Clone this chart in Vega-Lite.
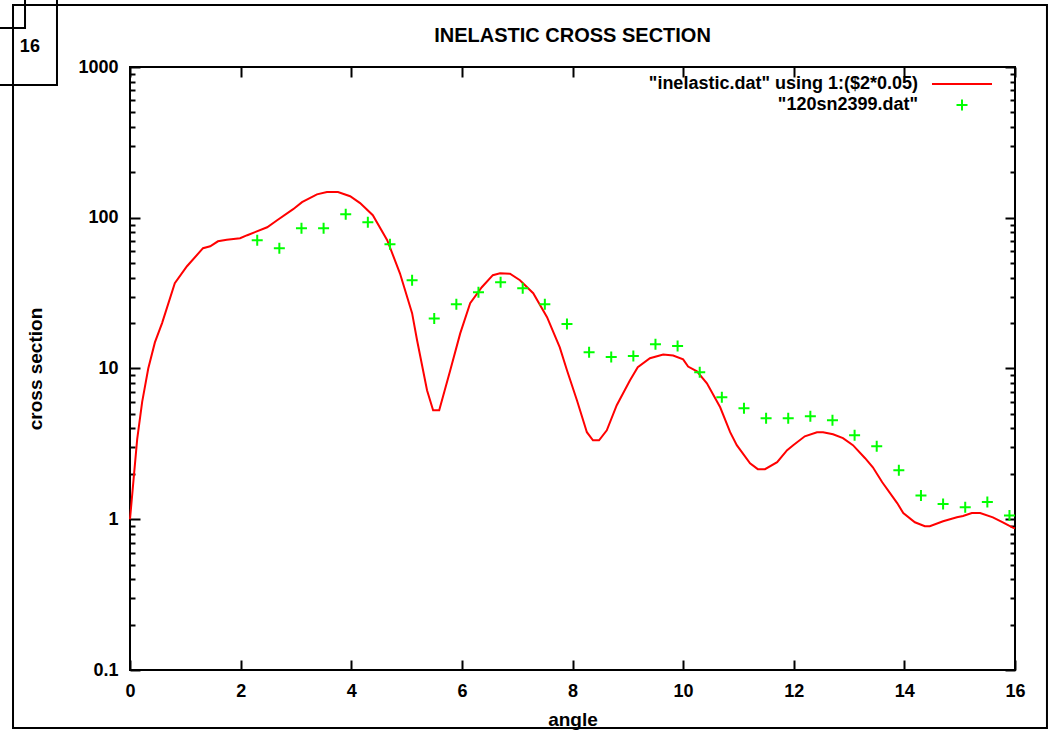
{
  "$schema": "https://vega.github.io/schema/vega-lite/v6.json",
  "width": 885,
  "height": 603,
  "autosize": {"type": "none"},
  "padding": {"left": 130, "top": 67, "right": 42, "bottom": 61},
  "background": "white",
  "title": {"text": "INELASTIC CROSS SECTION", "font": "Liberation Sans", "fontSize": 20, "fontWeight": "bold", "color": "black", "anchor": "middle", "frame": "group", "baseline": "alphabetic", "offset": -68},
  "config": {
    "view": {"stroke": "black", "strokeWidth": 2},
    "axis": {"domain": false, "grid": false, "labelFont": "Liberation Sans", "labelFontSize": 18, "labelFontWeight": "bold", "labelColor": "black", "titleFont": "Liberation Sans", "titleFontSize": 19, "titleFontWeight": "bold", "titleColor": "black", "tickColor": "black", "tickWidth": 2, "labelOverlap": false, "labelFlush": false},
    "legend": {"labelFont": "Liberation Sans", "labelFontSize": 18, "labelFontWeight": "bold", "labelColor": "black"}
  },
  "resolve": {"axis": {"x": "independent", "y": "independent"}},
  "datasets": {
    "inelastic": [
      {"angle": 0, "cs": 1.0, "series": "\"inelastic.dat\" using 1:($2*0.05)"},
      {"angle": 0.13, "cs": 3.4, "series": "\"inelastic.dat\" using 1:($2*0.05)"},
      {"angle": 0.22, "cs": 6.0, "series": "\"inelastic.dat\" using 1:($2*0.05)"},
      {"angle": 0.33, "cs": 10, "series": "\"inelastic.dat\" using 1:($2*0.05)"},
      {"angle": 0.45, "cs": 14.9, "series": "\"inelastic.dat\" using 1:($2*0.05)"},
      {"angle": 0.58, "cs": 20, "series": "\"inelastic.dat\" using 1:($2*0.05)"},
      {"angle": 0.81, "cs": 36.8, "series": "\"inelastic.dat\" using 1:($2*0.05)"},
      {"angle": 1.03, "cs": 47.7, "series": "\"inelastic.dat\" using 1:($2*0.05)"},
      {"angle": 1.32, "cs": 62.8, "series": "\"inelastic.dat\" using 1:($2*0.05)"},
      {"angle": 1.45, "cs": 64.7, "series": "\"inelastic.dat\" using 1:($2*0.05)"},
      {"angle": 1.59, "cs": 69.8, "series": "\"inelastic.dat\" using 1:($2*0.05)"},
      {"angle": 1.75, "cs": 71.5, "series": "\"inelastic.dat\" using 1:($2*0.05)"},
      {"angle": 1.99, "cs": 73.1, "series": "\"inelastic.dat\" using 1:($2*0.05)"},
      {"angle": 2.12, "cs": 76.6, "series": "\"inelastic.dat\" using 1:($2*0.05)"},
      {"angle": 2.48, "cs": 86.5, "series": "\"inelastic.dat\" using 1:($2*0.05)"},
      {"angle": 2.66, "cs": 96.2, "series": "\"inelastic.dat\" using 1:($2*0.05)"},
      {"angle": 2.95, "cs": 114, "series": "\"inelastic.dat\" using 1:($2*0.05)"},
      {"angle": 3.11, "cs": 127, "series": "\"inelastic.dat\" using 1:($2*0.05)"},
      {"angle": 3.38, "cs": 143, "series": "\"inelastic.dat\" using 1:($2*0.05)"},
      {"angle": 3.56, "cs": 148, "series": "\"inelastic.dat\" using 1:($2*0.05)"},
      {"angle": 3.76, "cs": 148, "series": "\"inelastic.dat\" using 1:($2*0.05)"},
      {"angle": 3.98, "cs": 139, "series": "\"inelastic.dat\" using 1:($2*0.05)"},
      {"angle": 4.16, "cs": 125, "series": "\"inelastic.dat\" using 1:($2*0.05)"},
      {"angle": 4.39, "cs": 104, "series": "\"inelastic.dat\" using 1:($2*0.05)"},
      {"angle": 4.65, "cs": 71, "series": "\"inelastic.dat\" using 1:($2*0.05)"},
      {"angle": 4.88, "cs": 42.8, "series": "\"inelastic.dat\" using 1:($2*0.05)"},
      {"angle": 5.10, "cs": 23.3, "series": "\"inelastic.dat\" using 1:($2*0.05)"},
      {"angle": 5.19, "cs": 15.4, "series": "\"inelastic.dat\" using 1:($2*0.05)"},
      {"angle": 5.37, "cs": 7.17, "series": "\"inelastic.dat\" using 1:($2*0.05)"},
      {"angle": 5.48, "cs": 5.29, "series": "\"inelastic.dat\" using 1:($2*0.05)"},
      {"angle": 5.59, "cs": 5.29, "series": "\"inelastic.dat\" using 1:($2*0.05)"},
      {"angle": 5.79, "cs": 9.73, "series": "\"inelastic.dat\" using 1:($2*0.05)"},
      {"angle": 5.97, "cs": 17.1, "series": "\"inelastic.dat\" using 1:($2*0.05)"},
      {"angle": 6.15, "cs": 27.1, "series": "\"inelastic.dat\" using 1:($2*0.05)"},
      {"angle": 6.36, "cs": 34.6, "series": "\"inelastic.dat\" using 1:($2*0.05)"},
      {"angle": 6.56, "cs": 41.6, "series": "\"inelastic.dat\" using 1:($2*0.05)"},
      {"angle": 6.69, "cs": 42.8, "series": "\"inelastic.dat\" using 1:($2*0.05)"},
      {"angle": 6.87, "cs": 42.5, "series": "\"inelastic.dat\" using 1:($2*0.05)"},
      {"angle": 7.05, "cs": 38.5, "series": "\"inelastic.dat\" using 1:($2*0.05)"},
      {"angle": 7.29, "cs": 31.6, "series": "\"inelastic.dat\" using 1:($2*0.05)"},
      {"angle": 7.54, "cs": 21.9, "series": "\"inelastic.dat\" using 1:($2*0.05)"},
      {"angle": 7.77, "cs": 13.8, "series": "\"inelastic.dat\" using 1:($2*0.05)"},
      {"angle": 7.90, "cs": 9.73, "series": "\"inelastic.dat\" using 1:($2*0.05)"},
      {"angle": 8.08, "cs": 6.16, "series": "\"inelastic.dat\" using 1:($2*0.05)"},
      {"angle": 8.26, "cs": 3.78, "series": "\"inelastic.dat\" using 1:($2*0.05)"},
      {"angle": 8.37, "cs": 3.34, "series": "\"inelastic.dat\" using 1:($2*0.05)"},
      {"angle": 8.48, "cs": 3.34, "series": "\"inelastic.dat\" using 1:($2*0.05)"},
      {"angle": 8.62, "cs": 3.89, "series": "\"inelastic.dat\" using 1:($2*0.05)"},
      {"angle": 8.80, "cs": 5.71, "series": "\"inelastic.dat\" using 1:($2*0.05)"},
      {"angle": 9.04, "cs": 8.36, "series": "\"inelastic.dat\" using 1:($2*0.05)"},
      {"angle": 9.18, "cs": 10.2, "series": "\"inelastic.dat\" using 1:($2*0.05)"},
      {"angle": 9.40, "cs": 11.7, "series": "\"inelastic.dat\" using 1:($2*0.05)"},
      {"angle": 9.64, "cs": 12.4, "series": "\"inelastic.dat\" using 1:($2*0.05)"},
      {"angle": 9.82, "cs": 12.2, "series": "\"inelastic.dat\" using 1:($2*0.05)"},
      {"angle": 10.00, "cs": 11.5, "series": "\"inelastic.dat\" using 1:($2*0.05)"},
      {"angle": 10.09, "cs": 10.3, "series": "\"inelastic.dat\" using 1:($2*0.05)"},
      {"angle": 10.25, "cs": 9.59, "series": "\"inelastic.dat\" using 1:($2*0.05)"},
      {"angle": 10.43, "cs": 7.98, "series": "\"inelastic.dat\" using 1:($2*0.05)"},
      {"angle": 10.67, "cs": 5.53, "series": "\"inelastic.dat\" using 1:($2*0.05)"},
      {"angle": 10.85, "cs": 3.78, "series": "\"inelastic.dat\" using 1:($2*0.05)"},
      {"angle": 10.97, "cs": 3.10, "series": "\"inelastic.dat\" using 1:($2*0.05)"},
      {"angle": 11.21, "cs": 2.35, "series": "\"inelastic.dat\" using 1:($2*0.05)"},
      {"angle": 11.35, "cs": 2.15, "series": "\"inelastic.dat\" using 1:($2*0.05)"},
      {"angle": 11.48, "cs": 2.15, "series": "\"inelastic.dat\" using 1:($2*0.05)"},
      {"angle": 11.70, "cs": 2.39, "series": "\"inelastic.dat\" using 1:($2*0.05)"},
      {"angle": 11.88, "cs": 2.87, "series": "\"inelastic.dat\" using 1:($2*0.05)"},
      {"angle": 11.99, "cs": 3.10, "series": "\"inelastic.dat\" using 1:($2*0.05)"},
      {"angle": 12.20, "cs": 3.55, "series": "\"inelastic.dat\" using 1:($2*0.05)"},
      {"angle": 12.42, "cs": 3.78, "series": "\"inelastic.dat\" using 1:($2*0.05)"},
      {"angle": 12.53, "cs": 3.78, "series": "\"inelastic.dat\" using 1:($2*0.05)"},
      {"angle": 12.71, "cs": 3.66, "series": "\"inelastic.dat\" using 1:($2*0.05)"},
      {"angle": 12.89, "cs": 3.45, "series": "\"inelastic.dat\" using 1:($2*0.05)"},
      {"angle": 13.07, "cs": 3.10, "series": "\"inelastic.dat\" using 1:($2*0.05)"},
      {"angle": 13.29, "cs": 2.54, "series": "\"inelastic.dat\" using 1:($2*0.05)"},
      {"angle": 13.43, "cs": 2.21, "series": "\"inelastic.dat\" using 1:($2*0.05)"},
      {"angle": 13.60, "cs": 1.76, "series": "\"inelastic.dat\" using 1:($2*0.05)"},
      {"angle": 13.87, "cs": 1.28, "series": "\"inelastic.dat\" using 1:($2*0.05)"},
      {"angle": 13.98, "cs": 1.10, "series": "\"inelastic.dat\" using 1:($2*0.05)"},
      {"angle": 14.19, "cs": 0.955, "series": "\"inelastic.dat\" using 1:($2*0.05)"},
      {"angle": 14.37, "cs": 0.899, "series": "\"inelastic.dat\" using 1:($2*0.05)"},
      {"angle": 14.46, "cs": 0.899, "series": "\"inelastic.dat\" using 1:($2*0.05)"},
      {"angle": 14.70, "cs": 0.97, "series": "\"inelastic.dat\" using 1:($2*0.05)"},
      {"angle": 14.95, "cs": 1.03, "series": "\"inelastic.dat\" using 1:($2*0.05)"},
      {"angle": 15.06, "cs": 1.05, "series": "\"inelastic.dat\" using 1:($2*0.05)"},
      {"angle": 15.22, "cs": 1.10, "series": "\"inelastic.dat\" using 1:($2*0.05)"},
      {"angle": 15.37, "cs": 1.10, "series": "\"inelastic.dat\" using 1:($2*0.05)"},
      {"angle": 15.60, "cs": 1.03, "series": "\"inelastic.dat\" using 1:($2*0.05)"},
      {"angle": 15.78, "cs": 0.955, "series": "\"inelastic.dat\" using 1:($2*0.05)"},
      {"angle": 15.96, "cs": 0.88, "series": "\"inelastic.dat\" using 1:($2*0.05)"},
      {"angle": 16.0, "cs": 0.87, "series": "\"inelastic.dat\" using 1:($2*0.05)"}
    ],
    "measured": [
      {"angle": 2.3, "cs": 71.0, "series": "\"120sn2399.dat\""},
      {"angle": 2.7, "cs": 62.8, "series": "\"120sn2399.dat\""},
      {"angle": 3.1, "cs": 85.2, "series": "\"120sn2399.dat\""},
      {"angle": 3.5, "cs": 85.2, "series": "\"120sn2399.dat\""},
      {"angle": 3.9, "cs": 105.5, "series": "\"120sn2399.dat\""},
      {"angle": 4.3, "cs": 93.3, "series": "\"120sn2399.dat\""},
      {"angle": 4.7, "cs": 66.7, "series": "\"120sn2399.dat\""},
      {"angle": 5.1, "cs": 38.5, "series": "\"120sn2399.dat\""},
      {"angle": 5.5, "cs": 21.5, "series": "\"120sn2399.dat\""},
      {"angle": 5.9, "cs": 26.7, "series": "\"120sn2399.dat\""},
      {"angle": 6.3, "cs": 32.1, "series": "\"120sn2399.dat\""},
      {"angle": 6.7, "cs": 37.3, "series": "\"120sn2399.dat\""},
      {"angle": 7.1, "cs": 34.1, "series": "\"120sn2399.dat\""},
      {"angle": 7.5, "cs": 26.7, "series": "\"120sn2399.dat\""},
      {"angle": 7.9, "cs": 19.7, "series": "\"120sn2399.dat\""},
      {"angle": 8.3, "cs": 12.8, "series": "\"120sn2399.dat\""},
      {"angle": 8.7, "cs": 11.9, "series": "\"120sn2399.dat\""},
      {"angle": 9.1, "cs": 12.1, "series": "\"120sn2399.dat\""},
      {"angle": 9.5, "cs": 14.5, "series": "\"120sn2399.dat\""},
      {"angle": 9.9, "cs": 14.1, "series": "\"120sn2399.dat\""},
      {"angle": 10.3, "cs": 9.44, "series": "\"120sn2399.dat\""},
      {"angle": 10.7, "cs": 6.45, "series": "\"120sn2399.dat\""},
      {"angle": 11.1, "cs": 5.45, "series": "\"120sn2399.dat\""},
      {"angle": 11.5, "cs": 4.68, "series": "\"120sn2399.dat\""},
      {"angle": 11.9, "cs": 4.68, "series": "\"120sn2399.dat\""},
      {"angle": 12.3, "cs": 4.82, "series": "\"120sn2399.dat\""},
      {"angle": 12.7, "cs": 4.54, "series": "\"120sn2399.dat\""},
      {"angle": 13.1, "cs": 3.61, "series": "\"120sn2399.dat\""},
      {"angle": 13.5, "cs": 3.05, "series": "\"120sn2399.dat\""},
      {"angle": 13.9, "cs": 2.11, "series": "\"120sn2399.dat\""},
      {"angle": 14.3, "cs": 1.44, "series": "\"120sn2399.dat\""},
      {"angle": 14.7, "cs": 1.26, "series": "\"120sn2399.dat\""},
      {"angle": 15.1, "cs": 1.20, "series": "\"120sn2399.dat\""},
      {"angle": 15.5, "cs": 1.30, "series": "\"120sn2399.dat\""},
      {"angle": 15.9, "cs": 1.06, "series": "\"120sn2399.dat\""}
    ]
  },
  "layer": [
    {
      "data": {"name": "inelastic"},
      "mark": {"type": "line", "strokeWidth": 2},
      "encoding": {
        "x": {"field": "angle", "type": "quantitative", "scale": {"domain": [0, 16], "nice": false, "zero": false},
          "axis": {"orient": "bottom", "values": [0, 2, 4, 6, 8, 10, 12, 14, 16], "title": "angle", "tickSize": -10, "labelPadding": 22, "titlePadding": 10}},
        "y": {"field": "cs", "type": "quantitative", "scale": {"type": "log", "domain": [0.1, 1000], "nice": false},
          "axis": {"orient": "left", "title": "cross section", "tickSize": -10, "labelPadding": 22, "titlePadding": 32,
            "values": [0.1, 1, 10, 100, 1000], "format": "~g"}},
        "color": {"field": "series", "type": "nominal",
          "scale": {"domain": ["\"inelastic.dat\" using 1:($2*0.05)", "\"120sn2399.dat\""], "range": ["#ff0000", "#00ff00"]},
          "legend": {"title": null, "orient": "none", "legendX": 823, "legendY": 8, "padding": 0, "symbolSize": 100, "symbolStrokeWidth": 2, "labelAlign": "right", "labelOffset": -53, "labelLimit": 500, "rowPadding": 2}}
      }
    },
    {
      "data": {"name": "measured"},
      "mark": {"type": "point", "filled": false, "size": 100, "strokeWidth": 2, "opacity": 1},
      "encoding": {
        "x": {"field": "angle", "type": "quantitative",
          "axis": {"orient": "top", "values": [0, 2, 4, 6, 8, 10, 12, 14, 16], "labels": false, "title": null, "tickSize": -10}},
        "y": {"field": "cs", "type": "quantitative",
          "axis": {"orient": "right", "labels": false, "title": null, "tickSize": -10, "values": [0.1, 1, 10, 100, 1000]}},
        "color": {"field": "series", "type": "nominal"},
        "shape": {"field": "series", "type": "nominal",
          "scale": {"domain": ["\"inelastic.dat\" using 1:($2*0.05)", "\"120sn2399.dat\""], "range": ["M-6,0H6", "M-1.1,0H1.1M0,-1.1V1.1"]}}
      }
    },
    {
      "data": {"values": [{}]},
      "mark": {"type": "rect", "fill": null, "fillOpacity": 0, "stroke": "black", "strokeWidth": 2},
      "encoding": {
        "x": {"datum": -2.115, "type": "quantitative", "axis": null},
        "x2": {"datum": 16.578},
        "y": {"datum": 2576, "type": "quantitative",
          "axis": {"orient": "left", "labels": false, "title": null, "tickSize": -5,
            "values": [0.2, 0.3, 0.4, 0.5, 0.6, 0.7, 0.8, 0.9, 2, 3, 4, 5, 6, 7, 8, 9, 20, 30, 40, 50, 60, 70, 80, 90, 200, 300, 400, 500, 600, 700, 800, 900]}},
        "y2": {"datum": 0.0412}
      }
    },
    {
      "data": {"values": [{}]},
      "mark": {"type": "rect", "fill": null, "fillOpacity": 0, "stroke": "black", "strokeWidth": 2},
      "encoding": {
        "x": {"datum": -2.41, "type": "quantitative", "axis": null},
        "x2": {"datum": -1.32},
        "y": {"datum": 3006, "type": "quantitative",
          "axis": {"orient": "right", "labels": false, "title": null, "tickSize": -5,
            "values": [0.2, 0.3, 0.4, 0.5, 0.6, 0.7, 0.8, 0.9, 2, 3, 4, 5, 6, 7, 8, 9, 20, 30, 40, 50, 60, 70, 80, 90, 200, 300, 400, 500, 600, 700, 800, 900]}},
        "y2": {"datum": 760}
      }
    },
    {
      "data": {"values": [{}]},
      "mark": {"type": "rect", "fill": null, "fillOpacity": 0, "stroke": "black", "strokeWidth": 2},
      "encoding": {
        "x": {"datum": -2.5, "type": "quantitative", "axis": null},
        "x2": {"datum": -1.898},
        "y": {"datum": 3006, "type": "quantitative", "axis": null},
        "y2": {"datum": 1815}
      }
    },
    {
      "data": {"values": [{"label": "16"}]},
      "mark": {"type": "text", "font": "Liberation Sans", "fontSize": 18, "fontWeight": "bold", "color": "black", "align": "center", "baseline": "middle"},
      "encoding": {
        "x": {"datum": -1.81, "type": "quantitative", "axis": null},
        "y": {"datum": 1358, "type": "quantitative", "axis": null},
        "text": {"field": "label"}
      }
    }
  ]
}
